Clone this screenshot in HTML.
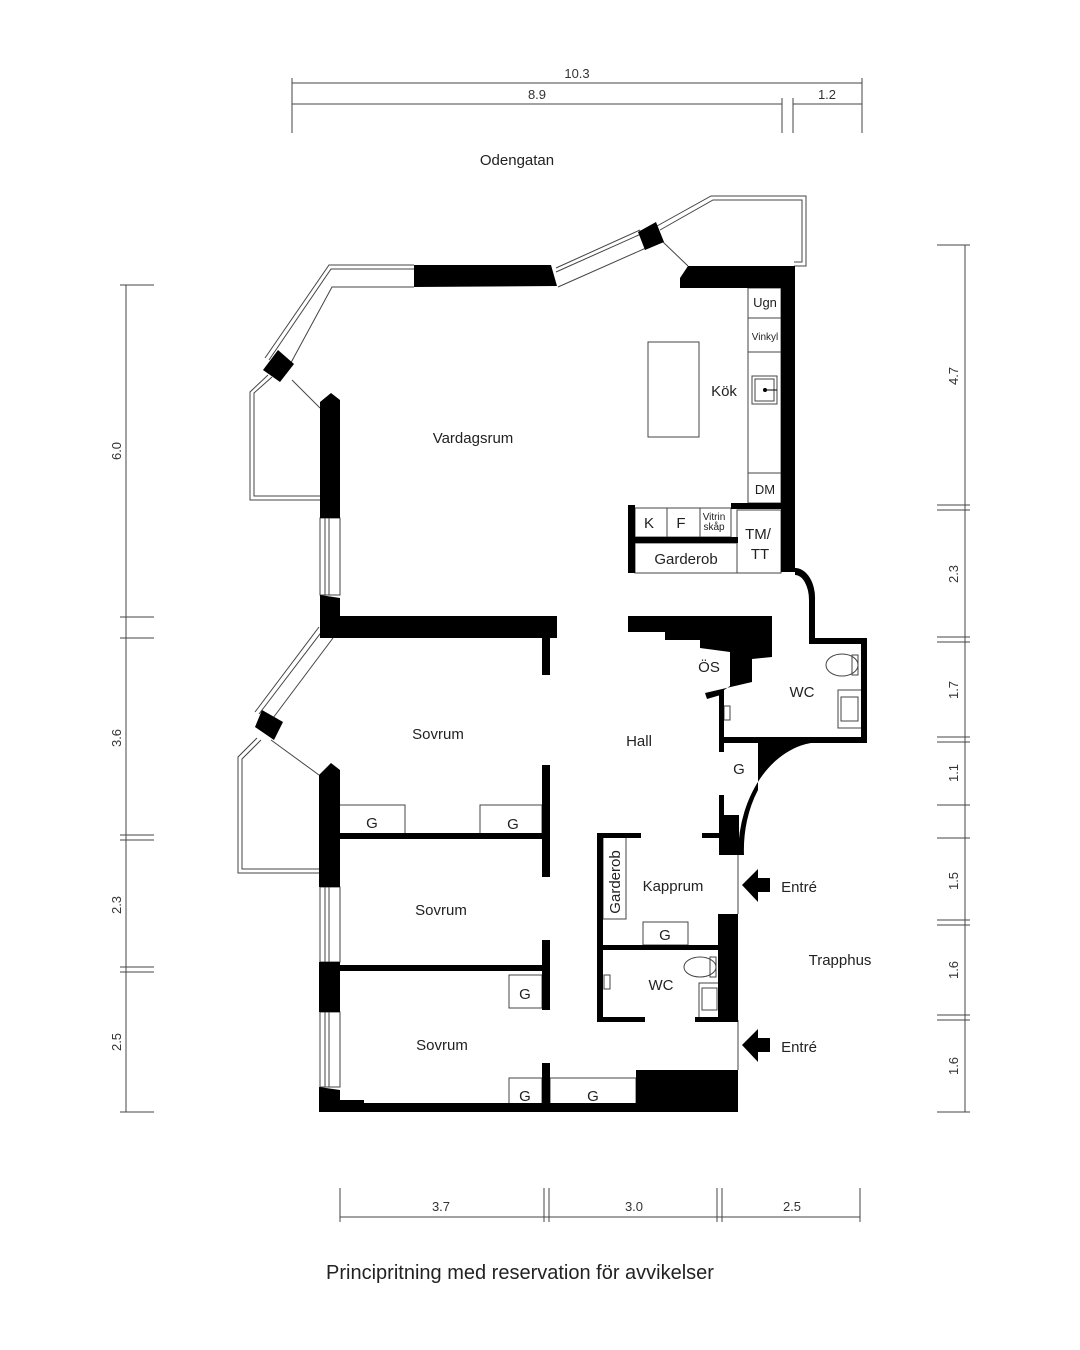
<!DOCTYPE html>
<html><head><meta charset="utf-8"><style>
html,body{margin:0;padding:0;background:#fff;}
svg{display:block;font-family:"Liberation Sans",sans-serif;}
</style></head><body>
<svg width="1080" height="1350" viewBox="0 0 1080 1350" xmlns="http://www.w3.org/2000/svg">
<rect width="1080" height="1350" fill="#fff"/>
<g stroke="#444" stroke-width="1" fill="none">
<line x1="292" y1="83" x2="862" y2="83"/><line x1="292" y1="104" x2="782" y2="104"/><line x1="793" y1="104" x2="862" y2="104"/>
<line x1="292" y1="78" x2="292" y2="133"/><line x1="862" y1="78" x2="862" y2="133"/><line x1="782" y1="98" x2="782" y2="133"/><line x1="793" y1="98" x2="793" y2="133"/>
<line x1="126" y1="285" x2="126" y2="1112"/>
<line x1="120" y1="285" x2="154" y2="285"/><line x1="120" y1="617" x2="154" y2="617"/><line x1="120" y1="638" x2="154" y2="638"/><line x1="120" y1="835" x2="154" y2="835"/><line x1="120" y1="840" x2="154" y2="840"/><line x1="120" y1="967" x2="154" y2="967"/><line x1="120" y1="972" x2="154" y2="972"/><line x1="120" y1="1112" x2="154" y2="1112"/>
<line x1="965" y1="245" x2="965" y2="1112"/>
<line x1="937" y1="245" x2="970" y2="245"/><line x1="937" y1="505" x2="970" y2="505"/><line x1="937" y1="510" x2="970" y2="510"/><line x1="937" y1="637" x2="970" y2="637"/><line x1="937" y1="642" x2="970" y2="642"/><line x1="937" y1="737" x2="970" y2="737"/><line x1="937" y1="742" x2="970" y2="742"/><line x1="937" y1="805" x2="970" y2="805"/><line x1="937" y1="838" x2="970" y2="838"/><line x1="937" y1="920" x2="970" y2="920"/><line x1="937" y1="925" x2="970" y2="925"/><line x1="937" y1="1015" x2="970" y2="1015"/><line x1="937" y1="1020" x2="970" y2="1020"/><line x1="937" y1="1112" x2="970" y2="1112"/>
<line x1="340" y1="1217" x2="860" y2="1217"/>
<line x1="340" y1="1188" x2="340" y2="1222"/><line x1="544" y1="1188" x2="544" y2="1222"/><line x1="549" y1="1188" x2="549" y2="1222"/><line x1="717" y1="1188" x2="717" y2="1222"/><line x1="722" y1="1188" x2="722" y2="1222"/><line x1="860" y1="1188" x2="860" y2="1222"/>
</g>
<g font-size="13" fill="#333" text-anchor="middle">
<text x="577" y="78">10.3</text><text x="537" y="99">8.9</text><text x="827" y="99">1.2</text>
<text x="441" y="1211">3.7</text><text x="634" y="1211">3.0</text><text x="792" y="1211">2.5</text>
<text transform="translate(121,451) rotate(-90)">6.0</text>
<text transform="translate(121,738) rotate(-90)">3.6</text>
<text transform="translate(121,905) rotate(-90)">2.3</text>
<text transform="translate(121,1042) rotate(-90)">2.5</text>
<text transform="translate(958,376) rotate(-90)">4.7</text>
<text transform="translate(958,574) rotate(-90)">2.3</text>
<text transform="translate(958,690) rotate(-90)">1.7</text>
<text transform="translate(958,773) rotate(-90)">1.1</text>
<text transform="translate(958,881) rotate(-90)">1.5</text>
<text transform="translate(958,970) rotate(-90)">1.6</text>
<text transform="translate(958,1066) rotate(-90)">1.6</text>
</g>
<text x="517" y="165" font-size="15" fill="#222" text-anchor="middle">Odengatan</text>
<text x="520" y="1279" font-size="20" fill="#222" text-anchor="middle">Principritning med reservation för avvikelser</text>

<g stroke="#444" stroke-width="1" fill="none">
<polyline points="414,265 329,265 265,358"/><polyline points="414,269 331,269 269,360"/><polyline points="414,287 332,287 287,370"/>
<polyline points="268,375 250,392 250,500 320,500"/><polyline points="272,377 254,393 254,496 320,496"/>
<line x1="292" y1="380" x2="320" y2="408"/>
<polyline points="556,268 640,230"/><polyline points="556,272 641,234"/><polyline points="558,287 646,248"/>
<polyline points="657,226 711,196 806,196 806,266 794,266"/><polyline points="660,230 713,200 802,200 802,262 794,262"/>
<line x1="663" y1="242" x2="688" y2="266"/>
<rect x="320" y="518" width="20" height="77"/><line x1="325" y1="518" x2="325" y2="595"/><line x1="329" y1="518" x2="329" y2="595"/>
<polyline points="319,627 255,712"/><polyline points="323,630 259,714"/><polyline points="333,638 270,722"/>
<polyline points="257,738 238,757 238,873 319,873"/><polyline points="261,740 242,759 242,869 319,869"/>
<line x1="271" y1="740" x2="319" y2="775"/>
<rect x="320" y="887" width="20" height="75"/><line x1="325" y1="887" x2="325" y2="962"/><line x1="329" y1="887" x2="329" y2="962"/>
<rect x="320" y="1012" width="20" height="75"/><line x1="325" y1="1012" x2="325" y2="1087"/><line x1="329" y1="1012" x2="329" y2="1087"/>
<rect x="748" y="288" width="33" height="215"/><line x1="748" y1="318" x2="781" y2="318"/><line x1="748" y1="352" x2="781" y2="352"/><line x1="748" y1="473" x2="781" y2="473"/>
<rect x="752" y="376" width="25" height="28"/><rect x="755" y="379" width="19" height="22"/>
<rect x="648" y="342" width="51" height="95"/>
<rect x="635" y="508" width="96" height="29"/><line x1="667" y1="508" x2="667" y2="537"/><line x1="700" y1="508" x2="700" y2="537"/>
<rect x="635" y="543" width="102" height="30"/><rect x="737" y="510" width="44" height="63"/>
<rect x="339" y="805" width="66" height="30"/><rect x="480" y="805" width="62" height="30"/>
<rect x="509" y="975" width="33" height="33"/><rect x="509" y="1078" width="33" height="28"/><rect x="550" y="1078" width="86" height="28"/>
<rect x="603" y="837" width="23" height="82"/><rect x="643" y="922" width="45" height="23"/>
<line x1="738" y1="852" x2="738" y2="914"/><line x1="738" y1="1020" x2="738" y2="1070"/>
<ellipse cx="842" cy="665" rx="16" ry="11"/><rect x="852" y="655" width="6" height="20"/>
<rect x="838" y="690" width="24" height="38"/><rect x="841" y="697" width="17" height="24"/>
<ellipse cx="700" cy="967" rx="16" ry="10"/><rect x="710" y="957" width="6" height="20"/>
<rect x="699" y="983" width="20" height="36"/><rect x="702" y="988" width="15" height="22"/>
<rect x="724" y="706" width="6" height="14"/><rect x="604" y="975" width="6" height="14"/>
</g>
<circle cx="765" cy="390" r="2" fill="#000"/><line x1="765" y1="390" x2="777" y2="390" stroke="#000"/>

<g fill="#000">
<polygon points="414,265 551,265 557,286 414,287"/>
<polygon points="638,232 656,222 664,242 645,250"/>
<polygon points="688,266 795,266 795,288 680,288 680,278"/>
<rect x="781" y="266" width="14" height="306"/>
<polygon points="263,370 278,350 294,364 280,382"/>
<polygon points="320,402 331,393 340,400 340,518 320,518"/>
<polygon points="320,595 340,598 340,620 320,620"/>
<rect x="320" y="616" width="237" height="22"/>
<rect x="320" y="600" width="20" height="38"/>
<polygon points="628,616 772,616 772,657 752,659 752,682 705,693 707,699 724,694 724,690 730,686 730,652 700,648 700,640 665,640 665,632 628,632"/>
<rect x="719" y="690" width="5" height="62"/>
<rect x="628" y="505" width="7" height="68"/><rect x="635" y="537" width="103" height="6"/><rect x="731" y="503" width="50" height="6"/>
<polygon points="255,727 262,710 283,722 274,740"/>
<polygon points="319,775 331,763 340,770 340,887 319,887"/>
<polygon points="319,962 340,962 340,1012 319,1012"/>
<polygon points="319,1087 340,1090 340,1103 319,1103"/>
<rect x="319" y="1103" width="419" height="9"/><rect x="340" y="1100" width="24" height="5"/>
<rect x="542" y="638" width="8" height="37"/><rect x="542" y="765" width="8" height="112"/><rect x="542" y="940" width="8" height="70"/><rect x="542" y="1063" width="8" height="43"/>
<rect x="340" y="833" width="202" height="6"/><rect x="340" y="965" width="202" height="6"/>
<rect x="636" y="1070" width="102" height="35"/>
<rect x="597" y="833" width="6" height="189"/><rect x="597" y="833" width="44" height="5"/><rect x="702" y="833" width="17" height="5"/>
<rect x="719" y="795" width="5" height="40"/><rect x="719" y="815" width="20" height="40"/>
<rect x="603" y="945" width="116" height="5"/><rect x="718" y="914" width="20" height="108"/>
<rect x="597" y="1017" width="48" height="5"/><rect x="695" y="1017" width="43" height="5"/>
<path d="M758,742 L822,742 A84,113 0 0 0 738,855 L744,855 A78,104 0 0 1 758,790 Z"/>
<path d="M795,568 A20,30 0 0 1 815,600 L815,643 L809,643 L809,600 A14,25 0 0 0 795,575 Z"/>
<rect x="809" y="638" width="58" height="6"/><rect x="861" y="638" width="6" height="105"/><rect x="719" y="737" width="148" height="6"/>
<polygon points="742,885 758,869 758,878 770,878 770,892 758,892 758,902"/>
<polygon points="742,1045 758,1029 758,1038 770,1038 770,1052 758,1052 758,1062"/>
</g>

<g font-size="15" fill="#222" text-anchor="middle">
<text x="473" y="443">Vardagsrum</text><text x="724" y="396">Kök</text>
<text x="765" y="307" font-size="13">Ugn</text><text x="765" y="340" font-size="10">Vinkyl</text><text x="765" y="494" font-size="13">DM</text>
<text x="649" y="528">K</text><text x="681" y="528">F</text>
<text x="714" y="520" font-size="10">Vitrin</text><text x="714" y="530" font-size="10">skåp</text>
<text x="686" y="564">Garderob</text><text x="758" y="539">TM/</text><text x="760" y="559">TT</text>
<text x="709" y="672">ÖS</text><text x="802" y="697">WC</text><text x="639" y="746">Hall</text><text x="739" y="774">G</text>
<text x="438" y="739">Sovrum</text><text x="372" y="828">G</text><text x="513" y="829">G</text>
<text x="441" y="915">Sovrum</text><text x="673" y="891">Kapprum</text><text x="665" y="940">G</text>
<text transform="translate(620,882) rotate(-90)">Garderob</text>
<text x="661" y="990">WC</text><text x="525" y="999">G</text><text x="840" y="965">Trapphus</text>
<text x="442" y="1050">Sovrum</text><text x="525" y="1101">G</text><text x="593" y="1101">G</text>
<text x="799" y="892">Entré</text><text x="799" y="1052">Entré</text>
</g>
</svg>
</body></html>
